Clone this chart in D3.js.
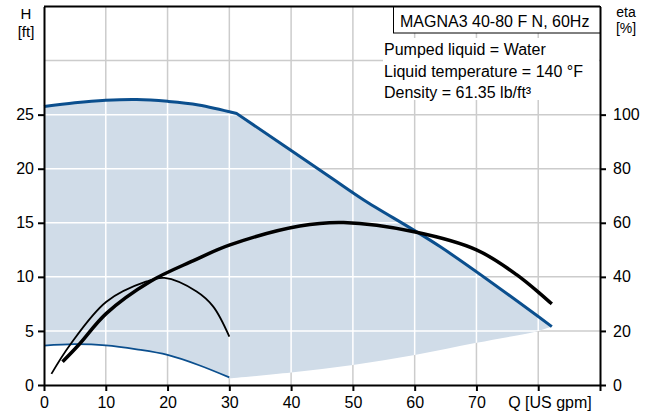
<!DOCTYPE html>
<html>
<head>
<meta charset="utf-8">
<script src="https://cdn.jsdelivr.net/npm/d3@7"></script>
<style>
  html, body { margin: 0; padding: 0; background: #fff; }
  svg { display: block; font-family: "Liberation Sans", Arial, sans-serif; }
</style>
</head>
<body>
<div id="chart"></div>
<script>
// Pump curve: head at max speed (dome + falling part), head at min speed
const maxDomeQ = [0, 5, 10, 15, 20, 25, 31.2];
const maxDomeH = [25.75, 26.1, 26.33, 26.4, 26.23, 25.9, 25.1];
const maxFallQ = [31.2, 46.3, 51.7, 64.1, 82.2];
const maxFallH = [25.1, 19.23, 17.13, 12.8, 5.4];
const minQ = [0, 5, 10, 15, 20, 25, 30];
const minH = [3.64, 3.78, 3.67, 3.3, 2.78, 1.85, 0.7];
// lower edge of the operating area
const edgeQ = [30, 40, 50, 60, 70, 80, 82.2];
const edgeH = [0.62, 1.15, 1.85, 2.78, 3.9, 5.0, 5.4];
// efficiency curves [%]
const etaMaxQ = [3.0, 5.6, 10.1, 17.2, 24.2, 30.1, 41.4, 48.5, 60.1, 70, 76.5, 82.2];
const etaMaxV = [8.6, 14.8, 26.5, 38.3, 46.0, 51.8, 58.8, 60.1, 56.6, 50, 40.8, 30];
const etaMinQ = [1.2, 4.2, 10.1, 16.6, 19.5, 24.7, 27.4, 30];
const etaMinV = [4.1, 14.8, 30.8, 38.3, 39.6, 34.6, 29, 17.9];

const qTicks = [0, 10, 20, 30, 40, 50, 60, 70, 80, 90];
const hTicks = [0, 5, 10, 15, 20, 25];
const hGrid = [5, 10, 15, 20, 25, 30];
const etaTicks = [0, 20, 40, 60, 80, 100];
const infoLines = ['Pumped liquid = Water', 'Liquid temperature = 140 °F', 'Density = 61.35 lb/ft³'];
const title = 'MAGNA3 40-80 F N, 60Hz';

const W = 651, Hh = 412;
const BLUE = '#0b4f8e', FILL = '#d0dce8', GRID = '#cccccc';

const svg = d3.select('#chart').append('svg').attr('width', W).attr('height', Hh);

const x = d3.scaleLinear().domain([0, 90]).range([44, 600]);
const y = d3.scaleLinear().domain([0, 35]).range([385, 6.5]);
const yEta = d3.scaleLinear().domain([0, 140]).range([385, 6.5]);

const pts = (qs, vs) => qs.map((q, i) => [q, vs[i]]);
const smooth = d3.line().x(d => x(d[0])).y(d => y(d[1])).curve(d3.curveCatmullRom.alpha(0.5));
const smoothEta = d3.line().x(d => x(d[0])).y(d => yEta(d[1])).curve(d3.curveCatmullRom.alpha(0.5));

// Gray grid
const drawGrid = (g, color) => {
  g.selectAll('line.v').data(qTicks.slice(1, -1)).join('line')
    .attr('class', 'v')
    .attr('x1', d => x(d)).attr('x2', d => x(d))
    .attr('y1', y(35)).attr('y2', y(0))
    .attr('stroke', color).attr('stroke-width', 1.5);
  g.selectAll('line.h').data(hGrid).join('line')
    .attr('class', 'h')
    .attr('x1', x(0)).attr('x2', x(90))
    .attr('y1', d => y(d)).attr('y2', d => y(d))
    .attr('stroke', color).attr('stroke-width', 1.5);
};
drawGrid(svg.append('g'), GRID);

// Operating area
const rev = a => a.slice().reverse();
const topD = smooth(pts(maxDomeQ, maxDomeH)) + smooth(pts(maxFallQ, maxFallH)).replace(/^M/, 'L');
const areaD = topD
  + smooth(rev(pts(edgeQ, edgeH))).replace(/^M/, 'L')
  + smooth(rev(pts(minQ, minH))).replace(/^M/, 'L') + 'Z';

svg.append('defs').append('clipPath').attr('id', 'area-clip')
  .append('path').attr('d', areaD);
svg.append('path').attr('d', areaD).attr('fill', FILL);
drawGrid(svg.append('g').attr('clip-path', 'url(#area-clip)'), '#fff');

// Curves
svg.append('path').attr('d', smooth(pts(minQ, minH)))
  .attr('fill', 'none').attr('stroke', BLUE).attr('stroke-width', 1.8);
svg.append('path').attr('d', topD)
  .attr('fill', 'none').attr('stroke', BLUE).attr('stroke-width', 3);
svg.append('path').attr('d', smoothEta(pts(etaMinQ, etaMinV)))
  .attr('fill', 'none').attr('stroke', '#000').attr('stroke-width', 1.8);
svg.append('path').attr('d', smoothEta(pts(etaMaxQ, etaMaxV)))
  .attr('fill', 'none').attr('stroke', '#000').attr('stroke-width', 3.5);

// Info block
svg.append('rect').attr('x', 383).attr('y', 38).attr('width', 216).attr('height', 62).attr('fill', '#fff');
svg.selectAll('text.info').data(infoLines).join('text')
  .attr('class', 'info')
  .attr('x', 384).attr('y', (d, i) => 55 + i * 21.5)
  .attr('font-size', 16).text(d => d);
svg.append('rect').attr('x', 393.5).attr('y', 6.5).attr('width', 207).attr('height', 26.5)
  .attr('fill', '#fff').attr('stroke', '#000').attr('stroke-width', 1);
svg.append('text').attr('x', 400).attr('y', 27).attr('font-size', 16).text(title);

// Axes
const styleAxis = g => {
  g.select('.domain').attr('stroke', '#000').attr('stroke-width', 2);
  g.selectAll('.tick line').attr('stroke', '#000').attr('stroke-width', 2);
  g.selectAll('.tick text').attr('font-size', 16).attr('fill', '#000')
    .attr('font-family', '"Liberation Sans", Arial, sans-serif');
};

svg.append('g').attr('transform', `translate(${x(0)},0)`)
  .call(d3.axisLeft(y).tickValues(hTicks).tickSize(6).tickSizeOuter(0).tickPadding(4))
  .call(styleAxis);
svg.append('g').attr('transform', `translate(${x(90)},0)`)
  .call(d3.axisRight(yEta).tickValues(etaTicks).tickSize(6).tickSizeOuter(0).tickPadding(7))
  .call(styleAxis);
svg.append('g').attr('transform', `translate(0,${y(0)})`)
  .call(d3.axisBottom(x).tickValues(qTicks).tickSize(6).tickSizeOuter(0).tickPadding(6)
    .tickFormat(d => d <= 70 ? d : ''))
  .call(styleAxis);
svg.append('line').attr('x1', x(0)).attr('x2', x(90)).attr('y1', y(35)).attr('y2', y(35))
  .attr('stroke', '#000').attr('stroke-width', 2);

// Axis titles
svg.append('text').attr('x', 550).attr('y', 408).attr('text-anchor', 'middle')
  .attr('font-size', 16).text('Q [US gpm]');
svg.append('text').attr('x', 26).attr('y', 19).attr('text-anchor', 'middle')
  .attr('font-size', 15).text('H');
svg.append('text').attr('x', 26).attr('y', 37).attr('text-anchor', 'middle')
  .attr('font-size', 15).text('[ft]');
svg.append('text').attr('x', 626).attr('y', 17).attr('text-anchor', 'middle')
  .attr('font-size', 14).text('eta');
svg.append('text').attr('x', 626).attr('y', 33).attr('text-anchor', 'middle')
  .attr('font-size', 14).text('[%]');
</script>
</body>
</html>
